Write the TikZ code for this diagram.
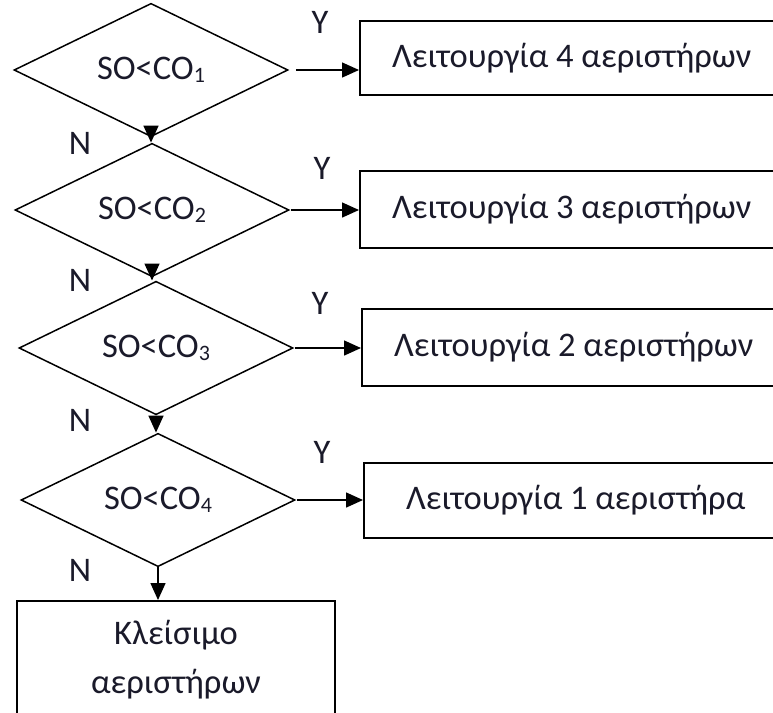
\documentclass[tikz,border=0pt]{standalone}
\usepackage{fontspec}
\setmainfont{Carlito}
\usetikzlibrary{shapes.geometric,arrows.meta}
\newcommand{\sbs}[1]{{\fontsize{22}{22}\selectfont\raisebox{-3pt}{#1}}}
\definecolor{txt}{HTML}{1A1A2A}
\begin{document}
\begin{tikzpicture}[x=1pt,y=-1pt,
  every node/.style={font=\fontsize{34.5}{49}\selectfont, text=txt},
  dec/.style={diamond, draw, line width=1.5pt, minimum width=274pt, minimum height=100pt, inner sep=0pt},
  actbox/.style={rectangle, draw, line width=1.5pt, minimum width=424pt, anchor=north west, inner sep=0pt},
  lbl/.style={inner sep=0pt},
  arr/.style={-{Triangle[length=17pt,width=15pt]}, line width=1.5pt}]
\useasboundingbox (0,0) rectangle (773,712);
\clip (0,0) rectangle (773,712);
\fill[white] (0,0) rectangle (773,712);
% decisions
\node[dec] (d1) at (151,70) {SO<CO\sbs{1}};
\node[dec] (d2) at (152,210) {SO<CO\sbs{2}};
\node[dec] (d3) at (156,348) {SO<CO\sbs{3}};
\node[dec] (d4) at (158,500) {SO<CO\sbs{4}};
% actions
\node[actbox, minimum height=74pt] (b1) at (359,20) {Λειτουργία 4 αεριστήρων};
\node[actbox, minimum height=77pt] (b2) at (359,170) {Λειτουργία 3 αεριστήρων};
\node[actbox, minimum height=77pt] (b3) at (361,308) {Λειτουργία 2 αεριστήρων};
\node[actbox, minimum height=75pt] (b4) at (363,462) {Λειτουργία 1 αεριστήρα};
\node[rectangle, draw, line width=1.5pt, anchor=north, minimum width=318pt, minimum height=118pt, align=center, inner sep=0pt] (b5) at (176,600) {Κλείσιμο\\αεριστήρων};
% yes arrows
\draw[arr, shorten <=7pt] (d1.east) -- (d1.east -| b1.west);
\draw[arr, shorten <=1pt] (d2.east) -- (d2.east -| b2.west);
\draw[arr, shorten <=1pt] (d3.east) -- (d3.east -| b3.west);
\draw[arr, shorten <=1pt] (d4.east) -- (d4.east -| b4.west);
% no arrows
\draw[arr] (d1.south) -- (d1.south |- d2.north);
\draw[arr] (d2.south) -- (d2.south |- d3.north);
\draw[arr] (d3.south) -- (d3.south |- d4.north);
\draw[arr] (d4.south) -- (d4.south |- b5.north);
% labels
\node[lbl] (y1) at (320,22) {Y};
\node[lbl] (y2) at (322,168) {Y};
\node[lbl] (y3) at (320,303) {Y};
\node[lbl] (y4) at (322,452) {Y};
\node[lbl] (n1) at (80,143) {N};
\node[lbl] (n2) at (80,280) {N};
\node[lbl] (n3) at (80,420) {N};
\node[lbl] (n4) at (80,570) {N};
\end{tikzpicture}
\end{document}
